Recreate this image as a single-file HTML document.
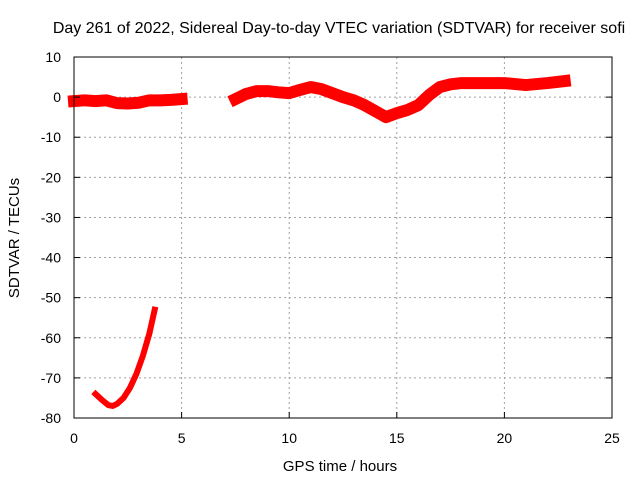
<!DOCTYPE html>
<html><head><meta charset="utf-8"><style>
body{margin:0;background:#fff;}
svg text{font-family:"Liberation Sans",sans-serif;font-size:14px;fill:#000;}
</style></head><body>
<svg id="chart" width="640" height="480" viewBox="0 0 640 480" xmlns="http://www.w3.org/2000/svg">
<rect width="640" height="480" fill="#fff"/>
<g id="grid"></g>
<g id="series"></g>
<rect x="74" y="57" width="538" height="361" fill="none" stroke="#000" stroke-width="1"/>
<g id="ticks"></g>
<text x="339" y="33" text-anchor="middle" style="font-size:16px">Day 261 of 2022, Sidereal Day-to-day VTEC variation (SDTVAR) for receiver sofi</text>
<text x="340" y="471" text-anchor="middle" style="font-size:15px">GPS time / hours</text>
<text transform="translate(19,238) rotate(-90)" text-anchor="middle" style="font-size:15px">SDTVAR / TECUs</text>
</svg>
<script>
const xTicks=[0,5,10,15,20,25];
const yTicks=[10,0,-10,-20,-30,-40,-50,-60,-70,-80];
const seg1X=[0,0.5,1,1.5,2,2.5,3,3.5,4,4.5,5];
const seg1Y=[-1,-0.8,-1,-0.8,-1.5,-1.6,-1.4,-0.8,-0.8,-0.7,-0.5];
const seg2X=[7.5,8,8.5,9,9.5,10,10.5,11,11.5,12,12.5,13,13.5,14,14.5,15,15.5,16,16.5,17,17.5,18,19,20,21,22,22.8];
const seg2Y=[-0.5,0.8,1.5,1.5,1.2,1,1.8,2.5,2,1,0,-0.8,-2,-3.5,-5,-4,-3.2,-2,0.5,2.5,3.2,3.5,3.5,3.5,3,3.5,4];
const seg3X=[1.0,1.3,1.6,1.8,2.0,2.3,2.6,2.9,3.2,3.5,3.75];
const seg3Y=[-74,-75.5,-76.8,-77,-76.5,-75,-72.5,-69,-64.5,-59,-53];
const X=v=>74+v*538/25;
const Y=v=>57+(10-v)*361/90;
const NS="http://www.w3.org/2000/svg";
const grid=document.getElementById('grid'),ticks=document.getElementById('ticks'),series=document.getElementById('series');
function mk(tag,attrs,parent){const e=document.createElementNS(NS,tag);for(const k in attrs)e.setAttribute(k,attrs[k]);parent.appendChild(e);return e;}
xTicks.forEach(t=>{
 if(t>0&&t<25){const g=mk('line',{x1:X(t),x2:X(t),y1:57,y2:418,stroke:'#a0a0a0','stroke-dasharray':'2,3'},grid);
 
 }
 const l=mk('line',{x1:X(t),x2:X(t),y1:418,y2:412,stroke:'#000'},ticks);
 
 
 const tx=mk('text',{x:X(t),y:443,'text-anchor':'middle'},ticks);tx.textContent=t;
 
 
});
yTicks.forEach(t=>{
 if(t<10&&t>-80){const g=mk('line',{x1:74,x2:612,y1:Y(t),y2:Y(t),stroke:'#a0a0a0','stroke-dasharray':'2,3'},grid);
 
 }
 const l=mk('line',{x1:74,x2:80,y1:Y(t),y2:Y(t),stroke:'#000'},ticks);
 
 
 const l2=mk('line',{x1:606,x2:612,y1:Y(t),y2:Y(t),stroke:'#000'},ticks);
 
 
 const tx=mk('text',{x:61,y:Y(t)+5,'text-anchor':'end'},ticks);tx.textContent=t;
 
 
});
function line(xs,ys,w,name){
 const pts=xs.map((x,i)=>X(x)+','+Y(ys[i])).join(' ');
 const p=mk('polyline',{points:pts,fill:'none',stroke:'#ff0000','stroke-width':w,'stroke-linejoin':'round','stroke-linecap':'square'},series);
 
 
}
line(seg1X,seg1Y,12,'sdtvar-segment-early');
line(seg2X,seg2Y,12,'sdtvar-segment-main');
line(seg3X,seg3Y,6,'sdtvar-segment-low');
</script>
</body></html>
